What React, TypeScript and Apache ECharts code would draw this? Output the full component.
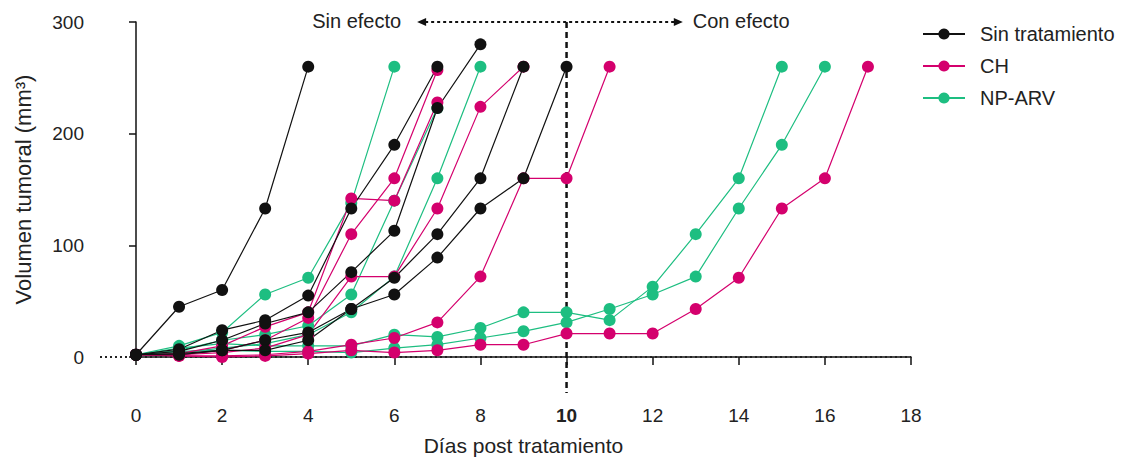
import React, { useEffect, useRef } from "react";
import * as echarts from "echarts";

// Each inner array is one animal: tumour volume (mm³) from day 0 onward, one value per day.
const sinTratamiento: number[][] = [
  [2, 45, 60, 133, 260],
  [2, 7, 24, 33, 55, 133, 190, 260],
  [2, 5, 15, 30, 40, 76, 113, 223, 280],
  [2, 3, 6, 15, 22, 43, 71, 110, 160, 260],
  [2, 2, 6, 6, 15, 43, 56, 89, 133, 160, 260],
];

const chTratamiento: number[][] = [
  [2, 3, 10, 27, 40, 142, 140, 228],
  [2, 2, 6, 15, 35, 110, 160, 257],
  [2, 2, 4, 8, 20, 72, 72, 133, 224, 260],
  [2, 1, 1, 2, 5, 11, 17, 31, 72, 160, 160, 260],
  [2, 1, 0, 1, 3, 6, 4, 6, 11, 11, 21, 21, 21, 43, 71, 133, 160, 260],
];

const npArv: number[][] = [
  [2, 8, 12, 10, 10, 10, 20, 18, 26, 40, 40, 33, 63, 110, 160, 260],
  [2, 5, 6, 5, 5, 4, 8, 11, 17, 23, 31, 43, 56, 72, 133, 190, 260],
  [2, 10, 22, 56, 71, 138, 260],
  [2, 6, 15, 20, 28, 56, 140, 223],
  [2, 4, 8, 12, 20, 40, 72, 160, 260],
];

const groupNames = ["Sin tratamiento", "CH", "NP-ARV"];
const groupColors = ["#111111", "#D4006D", "#1DBE81"];

const xMin = 0;
const xMax = 18;
const xInterval = 2;
const yMin = 0;
const yMax = 300;
const yInterval = 100;
const splitDay = 10;
const arrowLeftDay = 6.53;
const arrowRightDay = 12.7;

const FONT = "'Liberation Sans', Arial, sans-serif";
const NARROW = "'Liberation Sans Narrow', 'Arial Narrow', 'Liberation Sans', Arial, sans-serif";
const AXIS_OFFSET = 36;

function buildSeries(name: string, color: string, mice: number[][]) {
  return mice.map((vals) => ({
    type: "line",
    name,
    data: vals.map((v, i) => [i, v]),
    symbol: "circle",
    symbolSize: 12,
    itemStyle: { color },
    lineStyle: { color, width: 1.2 },
    emphasis: { disabled: true },
    silent: true,
    clip: false,
  }));
}

export default function App() {
  const ref = useRef<HTMLDivElement>(null);

  useEffect(() => {
    document.body.style.margin = "0";
    if (!ref.current) return;
    const chart = echarts.init(ref.current, undefined, { renderer: "svg" });

    const series = [
      ...buildSeries(groupNames[2], groupColors[2], npArv),
      ...buildSeries(groupNames[1], groupColors[1], chTratamiento),
      ...buildSeries(groupNames[0], groupColors[0], sinTratamiento),
    ];

    chart.setOption({
      animation: false,
      grid: { left: 136, right: 224, top: 22, bottom: 104, containLabel: false },
      legend: {
        data: groupNames,
        orient: "vertical",
        left: 917,
        top: 19,
        itemWidth: 42,
        itemHeight: 14,
        itemGap: 12,
        textStyle: { fontSize: 20, fontFamily: FONT, color: "#222", padding: [0, 0, 0, 10] },
        selectedMode: false,
      },
      xAxis: {
        type: "value",
        min: xMin,
        max: xMax,
        interval: xInterval,
        offset: AXIS_OFFSET,
        splitLine: { show: false },
        axisLine: { show: true, lineStyle: { color: "#111", width: 1.5 } },
        axisTick: { show: true, length: 8, lineStyle: { color: "#111", width: 1.5 } },
        axisLabel: {
          fontSize: 19,
          fontFamily: NARROW,
          color: "#222",
          margin: 13,
          formatter: (v: number) => (v === splitDay ? `{b|${v}}` : `${v}`),
          rich: { b: { fontSize: 19, fontFamily: NARROW, fontWeight: "bold", color: "#222" } },
        },
        name: "Días post tratamiento",
        nameLocation: "middle",
        nameGap: 42,
        nameTextStyle: { fontSize: 21, fontFamily: NARROW, color: "#222" },
      },
      yAxis: {
        type: "value",
        min: yMin,
        max: yMax,
        interval: yInterval,
        offset: AXIS_OFFSET,
        splitLine: { show: false },
        axisLine: { show: true, lineStyle: { color: "#111", width: 1.5 } },
        axisTick: { show: true, length: 7, lineStyle: { color: "#111", width: 1.5 } },
        axisLabel: { fontSize: 19, fontFamily: FONT, color: "#222", margin: 16 },
        name: "Volumen tumoral (mm³)",
        nameLocation: "middle",
        nameGap: 66,
        nameTextStyle: { fontSize: 22, fontFamily: FONT, color: "#222" },
      },
      series,
    });

    const p = (x: number, y: number) => chart.convertToPixel({ gridIndex: 0 }, [x, y]) as number[];
    const origin = p(xMin, 0);
    const right = p(xMax, 0);
    const y0 = origin[1];
    const xLeft = origin[0] - AXIS_OFFSET;
    const xAxisY = y0 + AXIS_OFFSET;
    const xSplit = p(splitDay, 0)[0];
    const yTop = p(splitDay, yMax)[1];
    const lx = p(arrowLeftDay, yMax)[0];
    const rx = p(arrowRightDay, yMax)[0];
    const ya = yTop;

    chart.setOption({
      graphic: [
        {
          type: "line",
          z: 1,
          silent: true,
          shape: { x1: xLeft, y1: y0, x2: right[0], y2: y0 },
          style: { stroke: "#222", lineWidth: 2, lineDash: [2, 3] },
        },
        {
          type: "line",
          z: 1,
          silent: true,
          shape: { x1: xSplit, y1: yTop, x2: xSplit, y2: xAxisY },
          style: { stroke: "#111", lineWidth: 2.5, lineDash: [6, 4] },
        },
        {
          type: "line",
          z: 1,
          silent: true,
          shape: { x1: lx + 8, y1: ya, x2: rx - 8, y2: ya },
          style: { stroke: "#111", lineWidth: 2, lineDash: [3, 3] },
        },
        {
          type: "polygon",
          z: 1,
          silent: true,
          shape: { points: [[lx, ya], [lx + 9, ya - 4], [lx + 9, ya + 4]] },
          style: { fill: "#111" },
        },
        {
          type: "polygon",
          z: 1,
          silent: true,
          shape: { points: [[rx, ya], [rx - 9, ya - 4], [rx - 9, ya + 4]] },
          style: { fill: "#111" },
        },
        {
          type: "text",
          z: 1,
          silent: true,
          x: lx - 16,
          y: ya - 1,
          style: {
            text: "Sin efecto",
            fontSize: 20,
            fontFamily: FONT,
            fill: "#222",
            align: "right",
            verticalAlign: "middle",
          },
        },
        {
          type: "text",
          z: 1,
          silent: true,
          x: rx + 10,
          y: ya - 1,
          style: {
            text: "Con efecto",
            fontSize: 20,
            fontFamily: FONT,
            fill: "#222",
            align: "left",
            verticalAlign: "middle",
          },
        },
      ],
    });

    return () => {
      chart.dispose();
    };
  }, []);

  return <div ref={ref} style={{ width: 1135, height: 461 }} />;
}
